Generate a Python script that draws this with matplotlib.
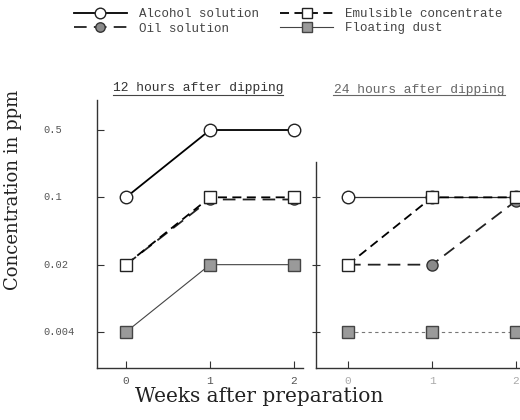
import matplotlib
matplotlib.use("Agg")
import matplotlib.pyplot as plt
import numpy as np

weeks = [0, 1, 2]
yticks = [0.004, 0.02, 0.1, 0.5]
ytick_labels = ["0.004", "0.02", "0.1", "0.5"]
xtick_labels = ["0", "1", "2"]

# 12 hours after dipping
alcohol_12 = [0.1, 0.5, 0.5]
oil_12 = [0.02, 0.095, 0.095]
emulsible_12 = [0.02, 0.1, 0.1]
dust_12 = [0.004, 0.02, 0.02]

# 24 hours after dipping
alcohol_24 = [0.1, 0.1, 0.1]
oil_24 = [0.02, 0.02, 0.092]
emulsible_24 = [0.02, 0.1, 0.1]
dust_24 = [0.004, 0.004, 0.004]

mono = "Liberation Mono"
serif = "DejaVu Serif"

W, H = 520, 420
fig = plt.figure(figsize=(5.2, 4.2), dpi=100)
axL = fig.add_axes([97 / W, 1 - 368 / H, 206 / W, 268 / H])
axR = fig.add_axes([316 / W, 1 - 368 / H, 204 / W, 268 / H])

step = 67.3  # px per factor of 5
ylo = 0.004 * 5 ** (-(368 - 332) / step)
yhi = 0.5 * 5 ** ((130 - 100) / step)
rtop = 0.1 * 5 ** ((197 - 162) / step)

styles = {
    "alcohol": dict(color="black", lw=1.3, ls="-", marker="o", ms=9,
                    mfc="white", mec="#222", mew=1.0),
    "oil": dict(color="#222", lw=1.3, ls=(0, (7, 4)), marker="o", ms=8,
                mfc="#8a8a8a", mec="#333", mew=1.0),
    "emulsible": dict(color="black", lw=1.3, ls=(0, (5, 3)), marker="s", ms=9,
                      mfc="white", mec="#222", mew=1.0),
    "dust": dict(color="#444", lw=0.8, ls="-", marker="s", ms=8,
                 mfc="#9a9a9a", mec="#444", mew=1.0),
}

hL = {}
hL["alcohol"], = axL.plot(weeks, alcohol_12, **styles["alcohol"])
hL["oil"], = axL.plot(weeks, oil_12, **styles["oil"])
hL["emulsible"], = axL.plot(weeks, emulsible_12, **styles["emulsible"])
hL["dust"], = axL.plot(weeks, dust_12, **styles["dust"])

r_alc = dict(styles["alcohol"], lw=0.9, color="#333")
r_dust = dict(styles["dust"], ls=(0, (3, 3)), color="#777")
axR.plot(weeks, alcohol_24, clip_on=False, **r_alc)
axR.plot(weeks, oil_24, clip_on=False, **styles["oil"])
axR.plot(weeks, emulsible_24, clip_on=False, **styles["emulsible"])
axR.plot(weeks, dust_24, clip_on=False, **r_dust)

axL.set_xlim(-(126 - 97) / 84, (303 - 126) / 84)
axR.set_xlim(-(348 - 316) / 84, (520 - 348) / 84)

for ax in (axL, axR):
    ax.set_yscale("log")
    ax.set_ylim(ylo, yhi)
    ax.minorticks_off()
    ax.set_yticks([v for v in yticks if v < (yhi if ax is axL else rtop)])
    ax.set_yticklabels([])
    ax.set_xticks(weeks)
    ax.set_xticklabels(xtick_labels, fontfamily=mono, fontsize=8)
    ax.spines["top"].set_visible(False)
    ax.spines["right"].set_visible(False)
    for s in ("left", "bottom"):
        ax.spines[s].set_color("#333")
        ax.spines[s].set_linewidth(1.0)
    ax.tick_params(axis="x", direction="in", length=5, pad=6, colors="#333")
    ax.tick_params(axis="y", direction="in", length=5, colors="#333")
    ax.patch.set_alpha(0)

axR.tick_params(axis="y", direction="inout", length=6)
for lbl in axL.get_xticklabels():
    lbl.set_color("#555")
for lbl in axR.get_xticklabels():
    lbl.set_color("#aaa")
axR.spines["left"].set_bounds(ylo, rtop)

# left-aligned y tick labels like the typed original
for v, lab in zip(yticks, ytick_labels):
    axL.text((43 - 97) / 206, v, lab, transform=axL.get_yaxis_transform(),
             ha="left", va="center", fontfamily=mono, fontsize=7.5, color="#555")

# panel titles, underlined
axL.text(0.49, 1.045, "12 hours after dipping", transform=axL.transAxes,
         ha="center", va="center", fontfamily=mono, fontsize=9.4, color="#333")
axL.plot([0.078, 0.903], [1.019, 1.019], transform=axL.transAxes,
         clip_on=False, color="#444", lw=0.8)
axR.text(0.505, 1.037, "24 hours after dipping", transform=axR.transAxes,
         ha="center", va="center", fontfamily=mono, fontsize=9.4, color="#666")
axR.plot([0.083, 0.926], [1.019, 1.019], transform=axR.transAxes,
         clip_on=False, color="#666", lw=0.8)

fig.text(13 / W, 1 - 190 / H, "Concentration in ppm", rotation=90,
         ha="center", va="center", fontfamily=serif, fontsize=13, color="#222")
fig.text(259 / W, 1 - 396 / H, "Weeks after preparation",
         ha="center", va="center", fontfamily=serif, fontsize=14.5, color="#222")

order = ["alcohol", "oil", "emulsible", "dust"]
labels = ["Alcohol solution", "Oil solution", "Emulsible concentrate", "Floating dust"]
fig.legend([hL[k] for k in order], labels, loc="upper left",
           bbox_to_anchor=(74 / W, 1 - 8 / H), ncol=2, frameon=False,
           borderaxespad=0, borderpad=0, handlelength=4.2, handletextpad=1.0,
           columnspacing=1.7, labelspacing=0.2, numpoints=1, markerscale=0.85,
           prop={"family": mono, "size": 9}, labelcolor="#444")

fig.savefig("out.png", dpi=100)
